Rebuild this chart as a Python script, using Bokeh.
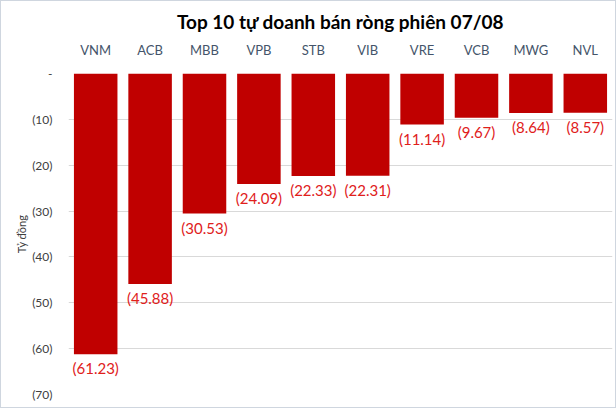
from bokeh.plotting import figure
from bokeh.models import ColumnDataSource, FixedTicker, Range1d
from bokeh.embed import file_html
from bokeh.resources import INLINE

tickers = ["VNM", "ACB", "MBB", "VPB", "STB", "VIB", "VRE", "VCB", "MWG", "NVL"]
net_sell = [61.23, 45.88, 30.53, 24.09, 22.33, 22.31, 11.14, 9.67, 8.64, 8.57]
y_ticks = [0, -10, -20, -30, -40, -50, -60, -70]
y_tick_labels = ["-", "(10)", "(20)", "(30)", "(40)", "(50)", "(60)", "(70)"]

vals = [-v for v in net_sell]
labels = ["(%.2f)" % v for v in net_sell]
src = ColumnDataSource(dict(x=tickers, top=[0] * len(vals), bottom=vals, lab=labels))

FONT = "Lato"
p = figure(x_range=tickers, y_range=Range1d(-70, 0), width=616, height=408,
           output_backend="svg", toolbar_location=None, x_axis_location="above",
           min_border_left=67, min_border_right=5, min_border_bottom=15, min_border_top=8)
p.title.text = "Top 10 tự doanh bán ròng phiên 07/08"
p.title.align = "center"
p.title.text_font = FONT
p.title.text_font_size = "19px"
p.title.text_font_style = "bold"
p.title.text_color = "#000000"
p.title.offset = 0
p.title.standoff = 12

p.vbar(x="x", top="top", bottom="bottom", width=0.8, source=src,
       fill_color="#c00000", line_color=None)
p.text(x="x", y="bottom", text="lab", source=src, y_offset=5,
       text_align="center", text_baseline="top", text_color="#e0201b",
       text_font_size="15px", text_font={"value": FONT})

p.outline_line_color = None
p.xgrid.grid_line_color = None
p.ygrid.grid_line_color = "#d9d9d9"
p.ygrid.ticker = FixedTicker(ticks=y_ticks)

xa = p.xaxis[0]
xa.axis_line_color = None
xa.major_tick_line_color = None
xa.minor_tick_line_color = None
xa.major_label_text_font = FONT
xa.major_label_text_font_size = "13px"
xa.major_label_text_color = "#44546a"
xa.major_label_standoff = 10

ya = p.yaxis[0]
ya.ticker = FixedTicker(ticks=y_ticks)
ya.major_label_overrides = {t: l for t, l in zip(y_ticks, y_tick_labels)}
ya.axis_line_color = None
ya.major_tick_line_color = None
ya.minor_tick_line_color = None
ya.major_label_text_font = FONT
ya.major_label_text_font_size = "12px"
ya.major_label_text_color = "#404040"
ya.major_label_standoff = 10
ya.axis_label = "Tỷ đồng"
ya.axis_label_text_font = FONT
ya.axis_label_text_font_size = "11px"
ya.axis_label_text_font_style = "normal"
ya.axis_label_text_color = "#404040"
ya.axis_label_standoff = 1

p.styles = {"border": "1px solid #cfd6df", "box-sizing": "border-box"}

open("out.html", "w").write(file_html(p, INLINE))
